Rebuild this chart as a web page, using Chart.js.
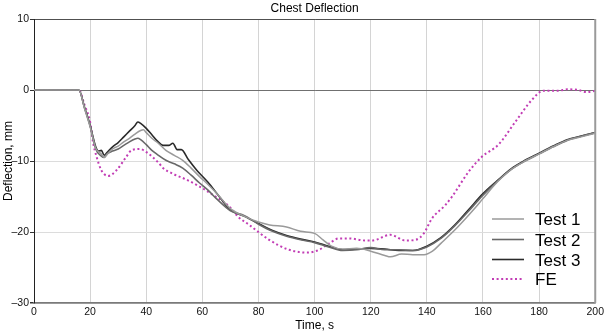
<!DOCTYPE html>
<html><head><meta charset="utf-8">
<script src="https://cdn.jsdelivr.net/npm/chart.js@4.4.1/dist/chart.umd.min.js"></script>
<style>html,body{margin:0;padding:0;background:#fff}canvas{display:block}</style>
</head><body>
<canvas id="c" width="607" height="331"></canvas>
<script>
const chartTitle = "Chest Deflection";
const xTitle = "Time, s";
const yTitle = "Deflection, mm";
const seriesNames = ["Test 1", "Test 2", "Test 3", "FE"];

const t1Time = [0,16,18,20,22,24,25,26,28,30,32,34,36,38,39,40,42,44,47,50,53,56,59,62,65,70,75,80,84,90,95,100,103,106,110,115,120,125,127,131,135,139,142,145,151,157,160,165,170,175,180,185,190,195,200];
const t1Defl = [0,0,-2.6,-5.2,-8.2,-9.0,-9.5,-9.1,-8.3,-7.9,-7.3,-6.8,-6.2,-5.7,-5.6,-6.0,-6.8,-7.4,-8.5,-9.2,-9.9,-11.0,-12.2,-13.3,-14.5,-16.7,-17.8,-18.6,-19.0,-19.3,-19.9,-20.2,-21.1,-22.0,-22.4,-22.3,-22.7,-23.3,-23.5,-23.1,-23.2,-23.2,-22.7,-21.6,-19.3,-16.7,-15.3,-13.0,-11.2,-10.0,-9.0,-8.0,-7.1,-6.6,-6.1];

const t2Time = [0,16,18,20,22,24,25,26,28,30,32,34,36,37,38,40,42,44,47,50,53,56,59,62,65,70,75,80,85,90,95,100,105,110,115,120,125,130,135,140,145,150,155,160,165,170,175,180,185,190,195,200];
const t2Defl = [0,0,-2.4,-5.0,-8.3,-9.3,-9.5,-9.0,-8.6,-8.3,-7.8,-7.3,-6.9,-6.8,-7.0,-7.7,-8.5,-9.1,-9.9,-10.4,-11.0,-12.0,-13.1,-14.1,-15.3,-17.0,-17.7,-18.9,-19.9,-20.6,-21.1,-21.5,-22.1,-22.6,-22.5,-22.2,-22.5,-22.5,-22.6,-22.1,-20.9,-19.1,-17.0,-14.8,-12.9,-11.2,-10.0,-9.0,-8.0,-7.1,-6.5,-6.0];

const t3Time = [0,16,18,20,22,23,24,25,26,28,30,32,34,36,37,38,40,42,44,46,48,49.5,51,52.5,55,58,62,66,70,75,80,85,90,95,100,105,110,115,120,125,130,135,140,145,150,155,160,165,170,175,180,185,190,195,200];
const t3Defl = [0,0,-2.5,-5.0,-8.0,-8.6,-8.5,-9.2,-8.8,-8.0,-7.4,-6.6,-5.8,-5.0,-4.5,-4.7,-5.4,-6.3,-7.2,-7.8,-7.8,-7.5,-8.4,-8.4,-9.8,-11.3,-13.0,-15.0,-16.9,-17.8,-18.8,-19.8,-20.5,-21.0,-21.4,-22.0,-22.5,-22.4,-22.3,-22.4,-22.6,-22.6,-22.0,-20.8,-19.0,-16.8,-14.6,-12.8,-11.1,-9.9,-8.9,-7.9,-7.0,-6.5,-6.0];

const feTime = [0,16,18,20,21,22.3,24,26.4,29.4,32.9,34.7,37.7,40.6,44.5,46,49.5,54.2,59,65,69.6,72.6,76.7,83.8,90.9,97.4,101.6,105.2,108.7,112.3,118.2,120.5,127,132.4,136,138.9,141.8,146.6,149,154.9,159.6,165.5,171.5,177.4,181.5,186.9,190,194,196.9,200];
const feDefl = [0,0,-2.1,-4.5,-7.3,-9.4,-11.3,-12.1,-11.3,-9.4,-8.5,-8.3,-8.9,-10.3,-11.0,-11.8,-12.6,-13.6,-15.1,-16.4,-17.8,-19.0,-21.1,-22.5,-22.9,-22.5,-21.6,-20.9,-20.9,-21.2,-21.2,-20.4,-21.2,-21.1,-20.2,-18.1,-16.2,-15.0,-11.5,-9.4,-7.7,-4.5,-1.4,-0.1,-0.1,0.1,0,-0.3,-0.1];

const xTicks = [0,20,40,60,80,100,120,140,160,180,200];
const yTicks = [-30,-20,-10,0,10];

const toPts = (xs, ys) => xs.map((x, i) => ({x: x, y: ys[i]}));

const styles = [
  {color:'#9a9a9a', width:1.5, dash:[]},
  {color:'#686868', width:1.6, dash:[]},
  {color:'#2a2a2a', width:1.6, dash:[]},
  {color:'#c23db5', width:2, dash:[2,2.6]}
];
const dataSets = [toPts(t1Time,t1Defl), toPts(t2Time,t2Defl), toPts(t3Time,t3Defl), toPts(feTime,feDefl)];
const FONT = '"Liberation Sans", Arial, sans-serif';

const extras = {
  id: 'extras',
  afterDraw(chart) {
    const ctx = chart.ctx, a = chart.chartArea;
    ctx.save();
    ctx.strokeStyle = '#9a9a9a'; ctx.lineWidth = 2;
    ctx.beginPath(); ctx.moveTo(a.right, a.top); ctx.lineTo(a.right, a.bottom); ctx.stroke();
    ctx.fillStyle = '#000';
    ctx.font = '12px ' + FONT;
    ctx.textAlign = 'center'; ctx.textBaseline = 'middle';
    ctx.fillText(chartTitle, (a.left + a.right) / 2, 9);
    const ys = [219, 239.5, 259.5, 279];
    ctx.font = '17px ' + FONT;
    ctx.textAlign = 'left';
    seriesNames.forEach((n, i) => {
      const s = styles[i];
      ctx.strokeStyle = s.color; ctx.lineWidth = s.width; ctx.setLineDash(s.dash);
      ctx.beginPath(); ctx.moveTo(492, ys[i]); ctx.lineTo(524, ys[i]); ctx.stroke();
      ctx.setLineDash([]);
      ctx.fillStyle = '#000';
      ctx.fillText(n, 535, ys[i] + 1.5);
    });
    ctx.restore();
  }
};

new Chart(document.getElementById('c'), {
  type: 'line',
  data: {
    datasets: seriesNames.map((n, i) => ({
      label: n,
      data: dataSets[i],
      borderColor: styles[i].color,
      borderWidth: styles[i].width,
      borderDash: styles[i].dash,
      pointRadius: 0,
      fill: false,
      cubicInterpolationMode: 'monotone'
    }))
  },
  options: {
    responsive: false,
    animation: false,
    layout: {padding: {top: 19, right: 10, left: 0, bottom: 0}},
    plugins: {legend: {display: false}, title: {display: false}, tooltip: {enabled: false}},
    scales: {
      x: {
        type: 'linear', min: 0, max: 200,
        afterBuildTicks: s => { s.ticks = xTicks.map(v => ({value: v})); },
        afterFit: s => { s.height = 28; },
        grid: {
          color: c => c.tick && c.tick.value === 0 ? 'rgba(0,0,0,0)' : '#d4d4d4',
          lineWidth: 1, tickLength: 0, drawTicks: false
        },
        border: {display: true, color: '#7a7a7a', width: 1.5},
        ticks: {color: '#111', font: {size: 10.5, family: FONT}, padding: 3, maxRotation: 0, autoSkip: false,
          callback: v => String(v)},
        title: {display: true, text: xTitle, color: '#000', font: {size: 12, family: FONT, lineHeight: 0.9}, padding: {top: 0, bottom: 0}}
      },
      y: {
        type: 'linear', min: -30, max: 10,
        afterBuildTicks: s => { s.ticks = yTicks.map(v => ({value: v})); },
        afterFit: s => { s.width = 34; },
        grid: {
          color: c => {
            const v = c.tick ? c.tick.value : null;
            if (v === 0) return '#707070';
            if (v === 10) return '#505050';
            if (v === -30) return '#7a7a7a';
            return '#dcdcdc';
          },
          lineWidth: c => (c.tick && c.tick.value === -30) ? 1.5 : 1,
          tickLength: 4, drawTicks: true,
          tickColor: '#333'
        },
        border: {display: true, color: '#222', width: 1},
        ticks: {color: '#111', font: {size: 10.5, family: FONT}, padding: 1, autoSkip: false,
          callback: v => (v < 0 ? '\u2013' : '') + String(Math.abs(v))},
        title: {display: true, text: yTitle, color: '#000', font: {size: 12, family: FONT, lineHeight: 1.2}, padding: {top: 1.5, bottom: 0}}
      }
    }
  },
  plugins: [extras]
});
</script>
</body></html>
